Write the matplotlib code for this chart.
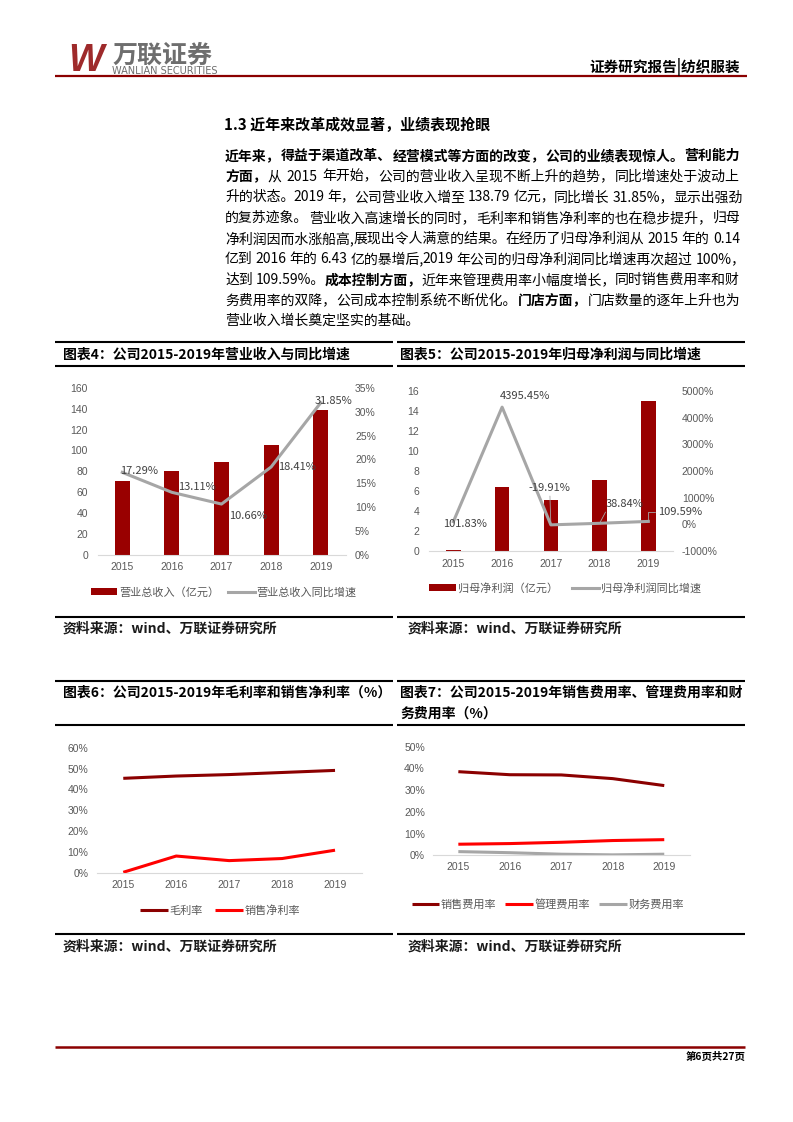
import matplotlib
matplotlib.use('Agg')
import matplotlib.pyplot as plt
from matplotlib.lines import Line2D
import numpy as np

plt.rcParams['font.family'] = ['Noto Sans CJK SC', 'DejaVu Sans']
plt.rcParams['axes.unicode_minus'] = False

# ---------------- data ----------------
years = ['2015', '2016', '2017', '2018', '2019']
revenue = [71.02, 80.33, 88.90, 105.26, 138.79]          # 亿元
revenue_growth = [17.29, 13.11, 10.66, 18.41, 31.85]      # %
net_profit = [0.14, 6.43, 5.15, 7.15, 14.99]              # 亿元
net_profit_growth = [101.83, 4395.45, -19.91, 38.84, 109.59]  # %
gross_margin = [45.3, 46.4, 47.1, 48.1, 49.1]             # %
net_margin = [0.2, 8.0, 5.8, 6.8, 10.8]                   # %
selling_rate = [38.5, 37.1, 37.0, 35.3, 32.1]             # %
admin_rate = [5.1, 5.4, 6.0, 6.8, 7.2]                    # %
finance_rate = [1.7, 1.2, 0.5, 0.2, 0.5]                  # %

rev_ticks = list(range(0, 161, 20))
rev_growth_ticks = list(range(0, 36, 5))
np_ticks = list(range(0, 17, 2))
np_growth_ticks = list(range(-1000, 5001, 1000))
margin_ticks = list(range(0, 61, 10))
expense_ticks = list(range(0, 51, 10))

title4 = '图表4：公司2015-2019年营业收入与同比增速'
title5 = '图表5：公司2015-2019年归母净利润与同比增速'
title6 = '图表6：公司2015-2019年毛利率和销售净利率（%）'
title7a = '图表7：公司2015-2019年销售费用率、管理费用率和财'
title7b = '务费用率（%）'
source_text = '资料来源：wind、万联证券研究所'

section_title = '1.3 近年来改革成效显著，业绩表现抢眼'
body_lines = [
    [('近年来，得益于渠道改革、经营模式等方面的改变，公司的业绩表现惊人。营利能力', True)],
    [('方面，', True), ('从 2015 年开始，公司的营业收入呈现不断上升的趋势，同比增速处于波动上', False)],
    [('升的状态。2019 年，公司营业收入增至 138.79 亿元，同比增长 31.85%，显示出强劲', False)],
    [('的复苏迹象。营业收入高速增长的同时，毛利率和销售净利率的也在稳步提升，归母', False)],
    [('净利润因而水涨船高,展现出令人满意的结果。在经历了归母净利润从 2015 年的 0.14', False)],
    [('亿到 2016 年的 6.43 亿的暴增后,2019 年公司的归母净利润同比增速再次超过 100%，', False)],
    [('达到 109.59%。', False), ('成本控制方面，', True), ('近年来管理费用率小幅度增长，同时销售费用率和财', False)],
    [('务费用率的双降，公司成本控制系统不断优化。', False), ('门店方面，', True), ('门店数量的逐年上升也为', False)],
    [('营业收入增长奠定坚实的基础。', False)],
]

# ---------------- figure ----------------
W, H = 793, 1122
fig = plt.figure(figsize=(W / 100, H / 100), dpi=100)
fig.patch.set_facecolor('white')


def fx(x):
    return x / W


def fy(y):
    return 1 - y / H


def hline(x0, x1, y, color='black', lw=1.5):
    fig.add_artist(Line2D([fx(x0), fx(x1)], [fy(y), fy(y)], color=color, lw=lw,
                          solid_capstyle='butt'))


def add_ax(x0, y0, x1, y1):
    return fig.add_axes([fx(x0), fy(y1), (x1 - x0) / W, (y1 - y0) / H])


DARK_RED = '#990000'
RED = '#FF0000'
GRAY = '#A6A6A6'
TICK_C = '#595959'
TICK_FONT = 'Liberation Sans'
TICK_FS = 7.5

# ---------------- header ----------------
fig.text(fx(68), fy(61), 'W', fontsize=27, fontweight='bold', fontstyle='italic',
         family='Liberation Sans', color='#9E2A2B', ha='left', va='center')
fig.text(fx(112), fy(56), '万联证券', fontsize=18, fontweight='bold', color='#6E6E6E',
         ha='left', va='center')
fig.text(fx(112), fy(71), 'WANLIAN SECURITIES', fontsize=7.0, family='DejaVu Sans',
         color='#6E6E6E', ha='left', va='center')
fig.text(fx(740), fy(66.5), '证券研究报告|纺织服装', fontsize=10.5, fontweight='bold',
         color='black', ha='right', va='center')
hline(55, 747, 76, color='#8B0000', lw=1.6)

# footer
hline(55, 745, 1047, color='#8B0000', lw=1.8)
fig.text(fx(745), fy(1057), '第6页共27页', fontsize=7.5, fontweight='bold',
         color='black', ha='right', va='center')

# ---------------- body text ----------------
fig.text(fx(224), fy(125), section_title, fontsize=10.8, fontweight='bold',
         ha='left', va='center', color='black')

BODY_FS = 10.0
renderer = fig.canvas.get_renderer()
PUNCT = set('，。、,')


def measure(s, weight):
    t = fig.text(0, 0, s, fontsize=BODY_FS, fontweight=weight)
    w = t.get_window_extent(renderer).width
    t.remove()
    return w


def chunks_of(text):
    """split into chunks at spaces (gap type 's') and after punctuation (gap type 'p')"""
    out = []
    cur = ''
    pending = None
    for ch in text:
        if ch == ' ':
            if cur:
                out.append((cur, pending))
                cur = ''
            pending = 's'
            continue
        cur += ch
        if ch in PUNCT:
            out.append((cur, pending))
            cur = ''
            pending = 'p'
    if cur:
        out.append((cur, pending))
    return out


x_left, x_right = 225, 740
SPACE_W = 4.0
line_y0, line_dy = 156, 20.65
for i, segs in enumerate(body_lines):
    y = line_y0 + i * line_dy
    words = []
    first = True
    for text, bold in segs:
        for c, g in chunks_of(text):
            if first:
                g = None
            elif g is None:
                g = 'p'
            words.append((c, 'bold' if bold else 'normal', g))
            first = False
        # segment boundary: next chunk will get gap 'p' (handled above)
    widths = [measure(p, w) for p, w, _ in words]
    n_s = sum(1 for _, _, g in words if g == 's')
    n_all = sum(1 for _, _, g in words if g is not None)
    natural = sum(widths) + SPACE_W * n_s
    last = (i == len(body_lines) - 1)
    if n_all and not last:
        share = (x_right - x_left - natural) / n_all
        share = max(-1.0, min(share, 6.0))
    else:
        share = 0.0
    x = x_left
    for (p, wgt, g), wd in zip(words, widths):
        if g == 's':
            x += SPACE_W + share
        elif g == 'p':
            x += share
        fig.text(fx(x), fy(y), p, fontsize=BODY_FS, fontweight=wgt, color='black',
                 ha='left', va='center')
        x += wd

# ---------------- panel frames ----------------
panels = [(55, 393), (397, 745)]
for (a, b) in panels:
    for yy in (341.7, 365.7, 617, 681, 725, 934.3):
        hline(a, b, yy)

fig.text(fx(63), fy(355), title4, fontsize=10, fontweight='bold', ha='left', va='center')
fig.text(fx(400), fy(355), title5, fontsize=10, fontweight='bold', ha='left', va='center')
fig.text(fx(63), fy(692.3), title6, fontsize=10, fontweight='bold', ha='left', va='center')
fig.text(fx(400), fy(692.3), title7a, fontsize=10, fontweight='bold', ha='left', va='center')
fig.text(fx(400), fy(713.3), title7b, fontsize=10, fontweight='bold', ha='left', va='center')
for sx, sy in [(63, 629), (408, 629), (63, 946.7), (408, 946.7)]:
    fig.text(fx(sx), fy(sy), source_text, fontsize=10, fontweight='bold',
             ha='left', va='center', color='#1a1a1a')


def style_axes(ax, show_bottom=True):
    for s in ['top', 'right', 'left']:
        ax.spines[s].set_visible(False)
    if show_bottom:
        ax.spines['bottom'].set_color('#D9D9D9')
        ax.spines['bottom'].set_linewidth(0.8)
    else:
        ax.spines['bottom'].set_visible(False)
    ax.tick_params(length=0)
    ax.set_facecolor('none')


x = np.arange(len(years))

# ---------------- chart 4 ----------------
ax4 = add_ax(97.5, 387.7, 345.5, 555)
style_axes(ax4)
bars4 = ax4.bar(x, revenue, width=0.3, color=DARK_RED, zorder=2)
ax4.set_xlim(-0.5, 4.5)
ax4.set_ylim(0, 160)
ax4.set_yticks(rev_ticks)
ax4.set_yticklabels([str(v) for v in rev_ticks], family=TICK_FONT, fontsize=TICK_FS, color=TICK_C)
ax4.set_xticks(x)
ax4.set_xticklabels(years, family=TICK_FONT, fontsize=TICK_FS, color=TICK_C)
ax4.tick_params(axis='y', pad=6.8)
ax4.tick_params(axis='x', pad=5)
ax4b = ax4.twinx()
style_axes(ax4b, show_bottom=False)
ax4b.spines['right'].set_visible(False)
line4, = ax4b.plot(x, revenue_growth, color=GRAY, lw=2.2, zorder=3)
ax4b.set_ylim(0, 35)
ax4b.set_yticks(rev_growth_ticks)
ax4b.set_yticklabels([f'{v}%' for v in rev_growth_ticks], family=TICK_FONT,
                     fontsize=TICK_FS, color=TICK_C)
ax4b.tick_params(axis='y', pad=6.8, length=0)
lab_off4 = [(17, 1.4), (24.6, 5.6), (26.5, -11.7), (25.5, 0), (13, 2)]
for i, v in enumerate(revenue_growth):
    ax4b.annotate(f'{v:.2f}%', xy=(x[i], v), xytext=lab_off4[i], textcoords='offset pixels',
                  ha='center', va='center', fontsize=8, color='#404040')
fig.legend([bars4, line4], ['营业总收入（亿元）', '营业总收入同比增速'], loc='center',
           bbox_to_anchor=(fx(223.5), fy(592)), ncol=2, frameon=False, fontsize=8,
           labelcolor=TICK_C, handlelength=2.4, handleheight=0.6, handletextpad=0.15,
           columnspacing=0.8, borderpad=0, borderaxespad=0)

# ---------------- chart 5 ----------------
ax5 = add_ax(429, 391, 672.7, 551)
style_axes(ax5)
bars5 = ax5.bar(x, net_profit, width=0.3, color=DARK_RED, zorder=2)
ax5.set_xlim(-0.5, 4.5)
ax5.set_ylim(0, 16)
ax5.set_yticks(np_ticks)
ax5.set_yticklabels([str(v) for v in np_ticks], family=TICK_FONT, fontsize=TICK_FS, color=TICK_C)
ax5.set_xticks(x)
ax5.set_xticklabels(years, family=TICK_FONT, fontsize=TICK_FS, color=TICK_C)
ax5.tick_params(axis='y', pad=7.2)
ax5.tick_params(axis='x', pad=6)
ax5b = ax5.twinx()
style_axes(ax5b, show_bottom=False)
ax5b.spines['right'].set_visible(False)
line5, = ax5b.plot(x, net_profit_growth, color=GRAY, lw=2.2, zorder=3)
ax5b.set_ylim(-1000, 5000)
ax5b.set_yticks(np_growth_ticks)
ax5b.set_yticklabels([f'{v}%' for v in np_growth_ticks], family=TICK_FONT,
                     fontsize=TICK_FS, color=TICK_C)
ax5b.tick_params(axis='y', pad=6.5, length=0)
lab_off5 = [(11.7, -2.7), (23, 11), (-1, 36.6), (25, 19), (32, 9)]
leader = {
    2: dict(arrowstyle='-', color=GRAY, lw=0.6, shrinkA=0, shrinkB=0, relpos=(0.5, 0)),
    3: dict(arrowstyle='-', color=GRAY, lw=0.6, shrinkA=0, shrinkB=0, relpos=(0.05, 0.1)),
    4: dict(arrowstyle='-', color=GRAY, lw=0.6, shrinkA=0, shrinkB=0, relpos=(0, 0.5),
            connectionstyle='angle,angleA=0,angleB=90,rad=0'),
}
for i, v in enumerate(net_profit_growth):
    ax5b.annotate(f'{v:.2f}%', xy=(x[i], v), xytext=lab_off5[i], textcoords='offset pixels',
                  ha='center', va='center', fontsize=8, color='#404040',
                  arrowprops=leader.get(i))
fig.legend([bars5, line5], ['归母净利润（亿元）', '归母净利润同比增速'], loc='center',
           bbox_to_anchor=(fx(565), fy(588)), ncol=2, frameon=False, fontsize=8,
           labelcolor=TICK_C, handlelength=2.4, handleheight=0.6, handletextpad=0.15,
           columnspacing=1.3, borderpad=0, borderaxespad=0)

# ---------------- chart 6 ----------------
ax6 = add_ax(96.8, 747.7, 361.5, 872.7)
style_axes(ax6)
l6a, = ax6.plot(x, gross_margin, color='#8B0000', lw=2.2, solid_capstyle='butt')
l6b, = ax6.plot(x, net_margin, color=RED, lw=2.2, solid_capstyle='butt')
ax6.set_xlim(-0.5, 4.5)
ax6.set_ylim(0, 60)
ax6.set_yticks(margin_ticks)
ax6.set_yticklabels([f'{v}%' for v in margin_ticks], family=TICK_FONT, fontsize=TICK_FS, color=TICK_C)
ax6.set_xticks(x)
ax6.set_xticklabels(years, family=TICK_FONT, fontsize=TICK_FS, color=TICK_C)
ax6.tick_params(axis='y', pad=6)
ax6.tick_params(axis='x', pad=5)
fig.legend([l6a, l6b], ['毛利率', '销售净利率'], loc='center',
           bbox_to_anchor=(fx(220), fy(910.7)), ncol=2, frameon=False, fontsize=8,
           labelcolor=TICK_C, handlelength=2.5, handletextpad=0.15,
           columnspacing=1.1, borderpad=0, borderaxespad=0)

# ---------------- chart 7 ----------------
ax7 = add_ax(432.6, 746.7, 690, 855.3)
style_axes(ax7)
l7a, = ax7.plot(x, selling_rate, color='#8B0000', lw=2.2, solid_capstyle='butt')
l7b, = ax7.plot(x, admin_rate, color=RED, lw=2.2, solid_capstyle='butt')
l7c, = ax7.plot(x, finance_rate, color=GRAY, lw=2.2, solid_capstyle='butt')
ax7.set_xlim(-0.5, 4.5)
ax7.set_ylim(0, 50)
ax7.set_yticks(expense_ticks)
ax7.set_yticklabels([f'{v}%' for v in expense_ticks], family=TICK_FONT, fontsize=TICK_FS, color=TICK_C)
ax7.set_xticks(x)
ax7.set_xticklabels(years, family=TICK_FONT, fontsize=TICK_FS, color=TICK_C)
ax7.tick_params(axis='y', pad=5.5)
ax7.tick_params(axis='x', pad=5)
fig.legend([l7a, l7b, l7c], ['销售费用率', '管理费用率', '财务费用率'], loc='center',
           bbox_to_anchor=(fx(548), fy(904.3)), ncol=3, frameon=False, fontsize=8,
           labelcolor=TICK_C, handlelength=2.5, handletextpad=0.15,
           columnspacing=0.8, borderpad=0, borderaxespad=0)

fig.savefig('out.png', dpi=100, facecolor='white')
